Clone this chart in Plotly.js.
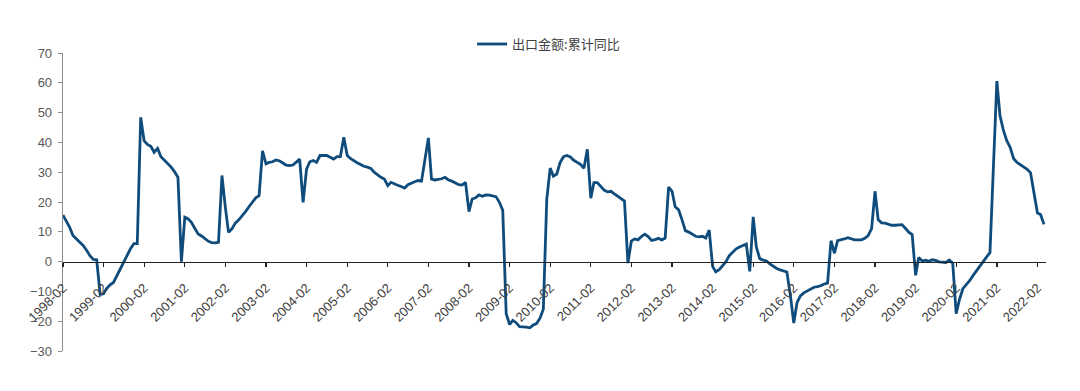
<!DOCTYPE html>
<html>
<head>
<meta charset="utf-8">
<script src="https://cdn.plot.ly/plotly-3.0.1.min.js"></script>
<style>
html,body{margin:0;padding:0;background:#fff;}
#chart{width:1080px;height:391px;}
</style>
</head>
<body>
<div id="chart"></div>
<script>
// 出口金额:累计同比 (%), monthly, Jan..Dec per year (1998 starts in Feb, 2022 ends in Apr)
const seriesName = '出口金额:累计同比';
const v1998 = [15.6, 13.8, 11.6, 8.8, 7.6, 6.5, 5.4, 3.8, 2.0, 0.7, 0.6];
const v1999 = [-11.0, -10.8, -9.0, -7.8, -7.0, -4.7, -2.5, -0.2, 2.2, 4.3, 6.0, 6.0];
const v2000 = [48.4, 40.5, 39.3, 38.7, 36.7, 38.0, 35.2, 34.0, 33.0, 31.7, 30.1, 28.3];
const v2001 = [0.0, 14.9, 14.4, 13.2, 11.2, 9.3, 8.6, 7.6, 6.8, 6.4, 6.3, 6.5];
const v2002 = [28.9, 18.0, 9.8, 11.0, 12.9, 14.0, 15.2, 16.8, 18.4, 19.8, 21.4, 22.1];
const v2003 = [37.2, 32.8, 33.3, 33.5, 34.1, 33.8, 33.0, 32.4, 32.2, 32.4, 33.4, 34.4];
const v2004 = [19.9, 31.0, 33.5, 33.9, 33.3, 35.6, 35.6, 35.6, 35.0, 34.4, 35.2, 35.2];
const v2005 = [41.7, 35.6, 34.6, 33.8, 33.2, 32.6, 32.0, 31.7, 31.3, 30.0, 29.0, 28.3];
const v2006 = [27.7, 25.5, 26.6, 26.0, 25.6, 25.2, 24.7, 25.8, 26.4, 26.8, 27.2, 27.0];
const v2007 = [null, 41.5, 27.7, 27.4, 27.5, 27.8, 28.3, 27.4, 27.0, 26.4, 25.8, 25.7];
const v2008 = [26.6, 16.8, 21.0, 21.4, 22.4, 21.9, 22.4, 22.3, 22.1, 21.8, 19.9, 17.2];
const v2009 = [-17.5, -21.1, -19.7, -20.5, -21.8, -21.8, -22.0, -22.2, -21.3, -20.8, -19.0, -16.0];
const v2010 = [21.0, 31.4, 28.7, 29.4, 33.2, 35.2, 35.6, 35.1, 34.0, 33.3, 32.6, 31.3];
const v2011 = [37.7, 21.3, 26.5, 26.5, 25.4, 24.0, 23.4, 23.6, 22.7, 22.0, 21.2, 20.3];
const v2012 = [-0.5, 6.9, 7.6, 7.3, 8.4, 9.2, 8.4, 7.1, 7.4, 7.8, 7.3, 7.9];
const v2013 = [25.0, 23.6, 18.4, 17.4, 14.1, 10.4, 9.9, 9.3, 8.5, 8.3, 8.5, 7.9];
const v2014 = [10.6, -1.6, -3.4, -2.7, -1.5, 0.0, 2.0, 3.3, 4.3, 4.9, 5.5, 5.9];
const v2015 = [-3.3, 15.0, 4.9, 1.0, 0.5, 0.2, -0.8, -1.6, -2.3, -2.8, -3.2, -3.5];
const v2016 = [-11.2, -20.6, -13.8, -11.5, -10.5, -9.8, -9.3, -8.6, -8.4, -8.1, -7.5, -7.2];
const v2017 = [7.0, 2.8, 7.0, 7.2, 7.6, 8.0, 7.6, 7.3, 7.3, 7.3, 7.8, 8.7];
const v2018 = [11.1, 23.6, 14.1, 13.0, 12.9, 12.6, 12.2, 12.2, 12.3, 12.4, 11.2, 9.9];
const v2019 = [9.1, -4.6, 1.4, 0.2, 0.5, 0.1, 0.6, 0.4, -0.1, -0.2, -0.3, 0.5];
const v2020 = [-0.5, -17.5, -12.8, -9.1, -7.8, -6.4, -4.7, -3.0, -1.5, 0.0, 1.6, 3.0];
const v2021 = [null, 60.6, 49.0, 44.0, 40.6, 38.3, 34.6, 33.3, 32.5, 31.8, 31.0, 29.8];
const v2022 = [null, 16.3, 15.8, 12.5];

const yearlyValues = [v1998, v1999, v2000, v2001, v2002, v2003, v2004, v2005, v2006, v2007,
  v2008, v2009, v2010, v2011, v2012, v2013, v2014, v2015, v2016, v2017, v2018, v2019,
  v2020, v2021, v2022];
const firstYear = 1998;
const tickYears = [1998,1999,2000,2001,2002,2003,2004,2005,2006,2007,2008,2009,2010,
  2011,2012,2013,2014,2015,2016,2017,2018,2019,2020,2021,2022];
const yTicks = [-30,-20,-10,0,10,20,30,40,50,60,70];

const xs = [], ys = [];
yearlyValues.forEach((arr, k) => {
  const yr = firstYear + k;
  const startMonth = (yr === 1998) ? 2 : 1;
  arr.forEach((v, j) => {
    const m = startMonth + j;
    xs.push(yr + '-' + String(m).padStart(2, '0') + '-01');
    ys.push(v);
  });
});

const tickvals = tickYears.map(y => y + '-02-01');
const ticktext = tickYears.map(y => y + '-02');

const trace = {
  x: xs, y: ys, type: 'scatter', mode: 'lines', name: seriesName,
  connectgaps: true,
  line: {color: '#0F4C7C', width: 2.8},
  hoverinfo: 'skip'
};

const layout = {
  width: 1080, height: 391,
  margin: {l: 63, r: 34, t: 53, b: 40, pad: 0},
  paper_bgcolor: '#fff', plot_bgcolor: '#fff',
  showlegend: true,
  legend: {
    orientation: 'h', x: 0.494, xanchor: 'center', y: 1.03, yanchor: 'middle',
    font: {family: '"Noto Sans CJK SC", "Liberation Sans", sans-serif', size: 13, color: '#404040'},
    bgcolor: 'rgba(0,0,0,0)'
  },
  xaxis: {
    type: 'date',
    range: ['1998-02-01', '2022-04-19'],
    anchor: 'free', position: 0.3,
    showgrid: false, zeroline: false,
    showline: true, linecolor: '#222', linewidth: 1.5,
    ticks: 'outside', ticklen: 4, tickwidth: 1.3, tickcolor: '#222',
    tickmode: 'array', tickvals: tickvals, ticktext: ticktext,
    tickangle: -45,
    ticklabelstandoff: 8,
    tickfont: {family: '"Liberation Sans", Arial, sans-serif', size: 13, color: '#404040'},
    automargin: false, fixedrange: true
  },
  yaxis: {
    range: [-30, 70],
    tickmode: 'array', tickvals: yTicks,
    showgrid: false, zeroline: false,
    showline: true, linecolor: '#8c8c8c', linewidth: 1.3,
    ticks: 'outside', ticklen: 4, tickcolor: '#8c8c8c', tickwidth: 1,
    tickfont: {family: '"Liberation Sans", Arial, sans-serif', size: 13, color: '#595959'},
    ticklabelstandoff: 3,
    automargin: false, fixedrange: true
  }
};

Plotly.newPlot('chart', [trace], layout, {staticPlot: true, displayModeBar: false});
</script>
</body>
</html>
